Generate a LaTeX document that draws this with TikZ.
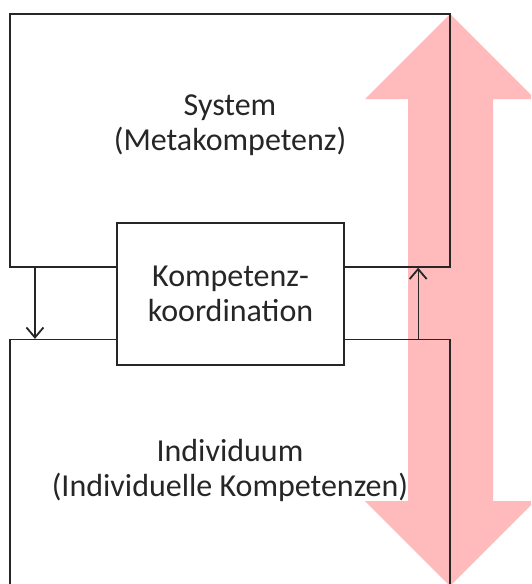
\documentclass[tikz,border=0pt]{standalone}
\usepackage{fontspec}
\setmainfont{Carlito}
\usepackage{xcolor}
\usetikzlibrary{arrows.meta,positioning,calc}

\definecolor{flowpink}{RGB}{255,187,187}

\begin{document}
\begin{tikzpicture}[
  x=1pt, y=-1pt,
  bigbox/.style={rectangle, draw=black!85, line width=1.3pt, minimum width=440pt, inner sep=0pt},
  midbox/.style={rectangle, draw=black!85, fill=white, line width=1.3pt, minimum width=227pt, minimum height=142pt, inner sep=0pt, font=\fontsize{32}{35}\selectfont, align=center},
  label/.style={font=\fontsize{32}{35}\selectfont, align=center, text=black!85},
  arrow/.style={-{Straight Barb[length=10pt, width=17pt, line width=1.8pt]}, line width=1.3pt, black!85}
]
\useasboundingbox (0,0) rectangle (531,584);
\clip (0,0) rectangle (531,584);

% Background: pink double arrow
\fill[flowpink] (450,14) -- (535,99) -- (493,99) -- (493,501) -- (535,501)
  -- (450,586) -- (365,501) -- (408,501) -- (408,99) -- (365,99) -- cycle;

% Upper box: system
\node[bigbox, minimum height=253pt] (sys) at (230,140.5) {};
\node[label] (systxt) at (230,125.5) {System\\(Metakompetenz)};

% Lower box: individual
\node[bigbox, minimum height=281pt] (ind) at (230,480) {};
\node[label] (indtxt) at (230,470) {Individuum\\(Individuelle Kompetenzen)};

% Middle box: coordination
\node[midbox, text=black!85] (koord) at (230.5,294) {Kompetenz-\\koordination};

% Arrows between the boxes
\draw[arrow] ([xshift=25.6pt]sys.south west) -- ([xshift=25.6pt]ind.north west);
\draw[arrow] ([xshift=-32.5pt]ind.north east) -- ([xshift=-32.5pt]sys.south east);

\end{tikzpicture}
\end{document}
